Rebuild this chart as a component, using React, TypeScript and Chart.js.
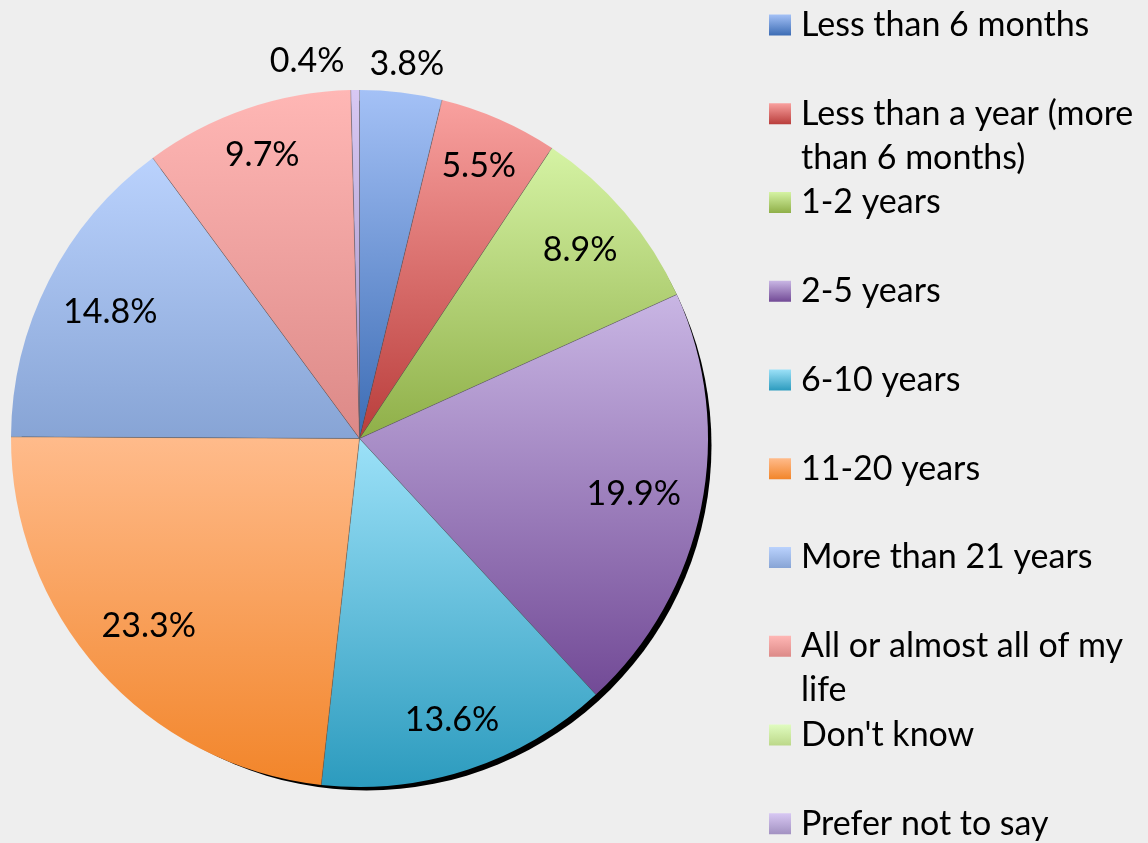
import React, { useEffect, useRef } from "react";
import { Chart, registerables } from "chart.js";

Chart.register(...registerables);

const categories: (string | string[])[] = [
  "Less than 6 months",
  ["Less than a year (more", "than 6 months)"],
  "1-2 years",
  "2-5 years",
  "6-10 years",
  "11-20 years",
  "More than 21 years",
  ["All or almost all of my", "life"],
  "Don't know",
  "Prefer not to say",
];
const percentages = [3.8, 5.5, 8.9, 19.9, 13.6, 23.3, 14.8, 9.7, 0, 0.4];
const gradientTop = ["#A4C1F6", "#F9A19F", "#D5F3A4", "#C9B6E4", "#9CE1F8", "#FFBB8B", "#BAD2FD", "#FFB7B5", "#E0FCC0", "#D8C8F3"];
const gradientBottom = ["#3C6CB4", "#B93D3B", "#8FAF48", "#724A96", "#2C9BBE", "#F2852A", "#87A4D5", "#DC8987", "#BCD889", "#A291C1"];

const FONT_FAMILY = "Lato, 'Open Sans', sans-serif";
const FONT_SIZE = 34;
const BG = "#EEEEEE";

function sliceGeometry(chart: any, i: number) {
  const area = chart.chartArea;
  const cx = (area.left + area.right) / 2;
  const cy = (area.top + area.bottom) / 2;
  const r = Math.min(area.right - area.left, area.bottom - area.top) / 2;
  const total = percentages.reduce((a, b) => a + b, 0);
  let cum = 0;
  for (let j = 0; j < i; j++) cum += percentages[j];
  const a0 = -Math.PI / 2 + (2 * Math.PI * cum) / total;
  const a1 = a0 + (2 * Math.PI * percentages[i]) / total;
  return { cx, cy, r, a0, a1 };
}

function sliceGradient(c: any) {
  const chart = c.chart;
  const i = c.dataIndex;
  if (!chart.chartArea) return gradientBottom[i];
  const { cx, cy, r, a0, a1 } = sliceGeometry(chart, i);
  let ymin = cy;
  let ymax = cy;
  const pts = [a0, a1];
  for (const k of [-Math.PI / 2, Math.PI / 2, (3 * Math.PI) / 2]) {
    if (k >= a0 && k <= a1) pts.push(k);
  }
  for (const a of pts) {
    const y = cy + r * Math.sin(a);
    ymin = Math.min(ymin, y);
    ymax = Math.max(ymax, y);
  }
  if (ymax - ymin < 1) ymax = ymin + 1;
  const g = chart.ctx.createLinearGradient(0, ymin, 0, ymax);
  g.addColorStop(0, gradientTop[i]);
  g.addColorStop(1, gradientBottom[i]);
  return g;
}

const shadowPlugin = {
  id: "pieShadow",
  beforeDatasetsDraw(chart: any) {
    const arc = chart.getDatasetMeta(0).data[0];
    if (!arc) return;
    const { x, y, outerRadius } = arc.getProps(["x", "y", "outerRadius"], true);
    const ctx = chart.ctx;
    ctx.save();
    ctx.fillStyle = "#000000";
    ctx.beginPath();
    ctx.arc(x + 7, y + 7, outerRadius - 3.5, 0, Math.PI * 2);
    ctx.fill();
    ctx.restore();
  },
};

const separatorPlugin = {
  id: "separators",
  afterDatasetsDraw(chart: any) {
    const meta = chart.getDatasetMeta(0);
    const ctx = chart.ctx;
    ctx.save();
    ctx.strokeStyle = "rgba(95,95,95,0.55)";
    ctx.lineWidth = 0.8;
    meta.data.forEach((arc: any, i: number) => {
      if (percentages[i] <= 0) return;
      const { x, y, outerRadius, startAngle } = arc.getProps(["x", "y", "outerRadius", "startAngle"], true);
      ctx.beginPath();
      ctx.moveTo(x, y);
      ctx.lineTo(x + outerRadius * Math.cos(startAngle), y + outerRadius * Math.sin(startAngle));
      ctx.stroke();
    });
    ctx.restore();
  },
};

type Box = { x1: number; x2: number; y1: number; y2: number };

const labelPlugin = {
  id: "pctLabels",
  afterDatasetsDraw(chart: any) {
    const meta = chart.getDatasetMeta(0);
    const ctx = chart.ctx;
    ctx.save();
    ctx.font = `${FONT_SIZE}px ${FONT_FAMILY}`;
    ctx.fillStyle = "#000000";
    ctx.textAlign = "center";
    ctx.textBaseline = "middle";
    const placed: Box[] = [];
    meta.data.forEach((arc: any, i: number) => {
      const v = percentages[i];
      if (v <= 0) return;
      const { x, y, outerRadius, startAngle, endAngle } = arc.getProps(
        ["x", "y", "outerRadius", "startAngle", "endAngle"],
        true
      );
      const mid = (startAngle + endAngle) / 2;
      const ux = Math.cos(mid);
      const uy = Math.sin(mid);
      const text = `${v.toFixed(1)}%`;
      const w = ctx.measureText(text).width;
      const h = FONT_SIZE;
      let px: number;
      let py: number;
      if (v < 5) {
        const ad = outerRadius + 12;
        px = x + ux * ad + (ux * w) / 2;
        py = y + uy * ad + (uy * h) / 2;
        let box = { x1: px - w / 2, x2: px + w / 2, y1: py - h / 2, y2: py + h / 2 };
        for (const b of placed) {
          const overlap = box.x1 < b.x2 && box.x2 > b.x1 && box.y1 < b.y2 && box.y2 > b.y1;
          if (overlap) {
            const gap = 25;
            if (px < (b.x1 + b.x2) / 2) px -= box.x2 - b.x1 + gap;
            else px += b.x2 - box.x1 + gap;
            box = { x1: px - w / 2, x2: px + w / 2, y1: py - h / 2, y2: py + h / 2 };
          }
        }
        placed.push(box);
      } else {
        const R = outerRadius - 19;
        const c1 = (Math.sign(ux) * w) / 2;
        const c2 = (Math.sign(uy) * h) / 2;
        const uc = ux * c1 + uy * c2;
        const d = -uc + Math.sqrt(uc * uc - (c1 * c1 + c2 * c2) + R * R);
        px = x + ux * d;
        py = y + uy * d;
      }
      ctx.fillText(text, px, py);
    });
    ctx.restore();
  },
};

const LEGEND_X = 769;
const LEGEND_TOP = 24;
const LEGEND_STEP = 88.75;
const LEGEND_LINE = 44;

const legendPlugin = {
  id: "sideLegend",
  afterDraw(chart: any) {
    const ctx = chart.ctx;
    const labels = chart.data.labels as (string | string[])[];
    ctx.save();
    ctx.font = `${FONT_SIZE}px ${FONT_FAMILY}`;
    ctx.textAlign = "left";
    ctx.textBaseline = "middle";
    labels.forEach((lab, i) => {
      const yc = LEGEND_TOP + i * LEGEND_STEP;
      const g = ctx.createLinearGradient(0, yc - 9.5, 0, yc + 11.5);
      g.addColorStop(0, gradientTop[i]);
      g.addColorStop(1, gradientBottom[i]);
      ctx.fillStyle = g;
      ctx.fillRect(LEGEND_X, yc - 9.5, 22, 21);
      ctx.fillStyle = "#000000";
      const lines = Array.isArray(lab) ? lab : [lab];
      lines.forEach((ln, k) => {
        ctx.fillText(ln, LEGEND_X + 32, yc + 1 + k * LEGEND_LINE);
      });
    });
    ctx.restore();
  },
};

export default function App() {
  const canvasRef = useRef<HTMLCanvasElement | null>(null);

  useEffect(() => {
    if (!canvasRef.current) return;
    const chart = new Chart(canvasRef.current, {
      type: "pie",
      data: {
        labels: categories as any,
        datasets: [
          {
            data: percentages,
            backgroundColor: sliceGradient as any,
            borderWidth: 0,
            hoverOffset: 0,
          },
        ],
      },
      options: {
        animation: false,
        responsive: false,
        maintainAspectRatio: false,
        rotation: 0,
        layout: { padding: { left: 11, top: 90, right: 440, bottom: 56 } },
        plugins: {
          legend: { display: false },
          tooltip: { enabled: false },
          title: { display: false },
        },
      } as any,
      plugins: [shadowPlugin, separatorPlugin, labelPlugin, legendPlugin],
    });
    return () => chart.destroy();
  }, []);

  return (
    <div style={{ position: "absolute", left: 0, top: 0, width: 1148, height: 843, background: BG }}>
      <canvas ref={canvasRef} width={1148} height={843} style={{ display: "block" }} />
    </div>
  );
}
